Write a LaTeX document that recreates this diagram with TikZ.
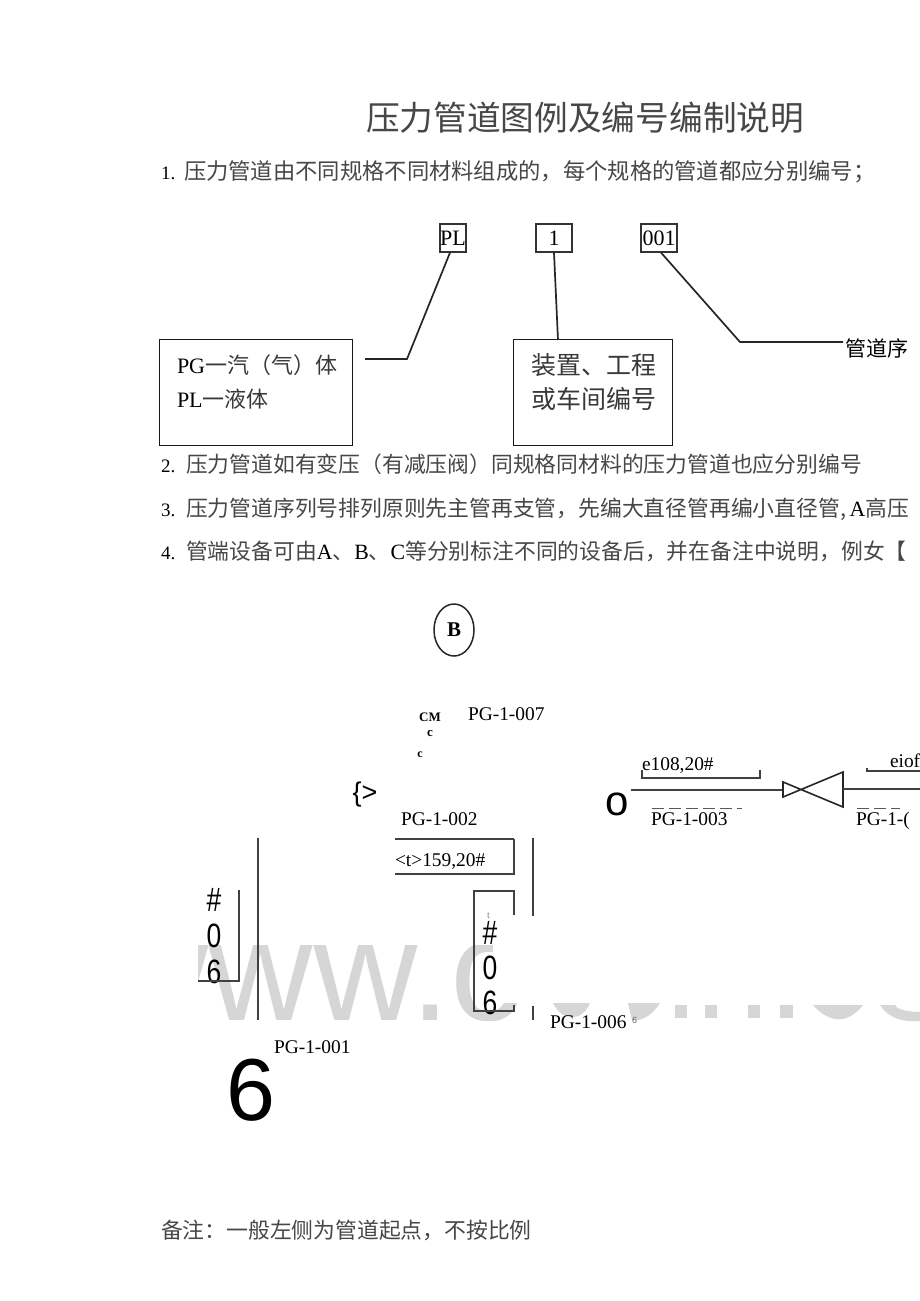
\documentclass[tikz,border=0pt]{standalone}
\usepackage{graphicx}
\usepackage{fontspec}
\setmainfont{Liberation Serif}
\newfontfamily\cjk{Noto Sans CJK SC}
\newfontfamily\hei{Liberation Sans}
\usetikzlibrary{shapes.geometric}
\newcommand{\fs}[1]{\fontsize{#1}{#1}\selectfont}
\newcommand{\tallglyph}[1]{\scalebox{.98}[1.25]{#1}}
\tikzset{
  txt/.style={anchor=base west,inner sep=0pt,outer sep=0pt},
  body/.style={txt,font=\cjk\fs{21.8},text=black!72},
  code/.style={txt,font=\fs{19.4},text=black},
  stack/.style={anchor=center,inner sep=0pt,font=\hei\fs{27},text=black},
  tag/.style={draw=black!80,line width=1.2pt,minimum height=28pt,inner sep=0pt,font=\fs{22},text=black},
  bigbox/.style={draw=black!90,line width=1.3pt,inner sep=0pt,anchor=north west},
  wire/.style={draw=black!85,line width=1.7pt},
  pipe/.style={draw=black!75,line width=1.7pt},
  dashbit/.style={draw=black!65,line width=1pt,dash pattern=on 12pt off 5pt},
  wm/.style={fill=black!16,draw=none}
}
\begin{document}
\begin{tikzpicture}[x=1pt,y=-1pt]
\useasboundingbox[fill=white] (0,0) rectangle (920,1301);
% watermark
\begin{scope}
\clip (198,945) -- (492,945) -- (492,1003) -- (920,1003) -- (920,1020) -- (198,1020) -- cycle;
\node[anchor=base west,inner sep=0pt,text=black!16,font=\hei\fs{145}] (mark) at (104,1020) {www.c};
\end{scope}
\fill[wm] (553,1003) .. controls (562,1022) and (582,1022) .. (590,1003) -- cycle;
\fill[wm] (628,1003) -- (660,1003) .. controls (650,1018) and (640,1021) .. (632,1020) -- cycle;
\fill[wm] (675,1005) rectangle (687,1018);
\fill[wm] (705,1005) rectangle (717,1018);
\fill[wm] (748,1005) rectangle (760,1018);
\fill[wm] (780,1005) rectangle (793,1018);
\fill[wm] (813,1005) .. controls (830,1024) and (848,1024) .. (863,1005) -- cycle;
\fill[wm] (880,1005) .. controls (890,1020) and (905,1022) .. (920,1021) -- (920,1012) .. controls (905,1012) and (895,1008) .. (895,1005) -- cycle;
% header text
\node[txt,font=\cjk\fs{33.7},text=black!72] (title) at (366,130) {压力管道图例及编号编制说明};
\node[txt,font=\fs{19}] (n1) at (161,179) {1.};
\node[body,font=\cjk\fs{22.3}] (l1) at (184,179) {压力管道由不同规格不同材料组成的，每个规格的管道都应分别编号；};
\node[txt,font=\fs{19}] (n2) at (161,472) {2.};
\node[body] (l2) at (186,472) {压力管道如有变压（有减压阀）同规格同材料的压力管道也应分别编号};
\node[txt,font=\fs{19}] (n3) at (161,516) {3.};
\node[body] (l3) at (186,516) {压力管道序列号排列原则先主管再支管，先编大直径管再编小直径管,\,{\rmfamily\color{black}A}高压};
\node[txt,font=\fs{19}] (n4) at (161,559) {4.};
\node[body] (l4) at (186,559) {管端设备可由{\rmfamily\color{black}A}、{\rmfamily\color{black}B}、{\rmfamily\color{black}C}等分别标注不同的设备后，并在备注中说明，例女【};
\node[body] (note) at (161,1238) {备注：一般左侧为管道起点，不按比例};
% numbering scheme
\node[tag,minimum width=26pt] (tagpl) at (453,238) {PL};
\node[tag,minimum width=36pt] (tagone) at (554,238) {1};
\node[tag,minimum width=36pt] (tagser) at (659,238) {001};
\node[bigbox,minimum width=193pt,minimum height=106pt] (boxa) at (159,339) {};
\node[bigbox,minimum width=159pt,minimum height=106pt] (boxb) at (513,339) {};
\node[txt,font=\cjk\fs{22},text=black!78] (a1) at (177,373) {{\rmfamily\color{black}PG}一汽（气）体};
\node[txt,font=\cjk\fs{22},text=black!78] (a2) at (177,407) {{\rmfamily\color{black}PL}一液体};
\node[txt,font=\cjk\fs{25},text=black!78] (b1) at (531,374) {装置、工程};
\node[txt,font=\cjk\fs{25},text=black!78] (b2) at (531,408) {或车间编号};
\node[txt,font=\cjk\fs{21}] (ser) at (845,356) {管道序};
\coordinate (ca1) at (407,359);
\coordinate (ca2) at (365,359);
\coordinate (cs1) at (740,342);
\coordinate (cs2) at (843,342);
\coordinate (tplb) at (450,252);
\coordinate (tseb) at (661,252);
\coordinate (boxbtop) at (558,340);
\draw[wire] (tagpl.south -| tplb) -- (ca1) -- (ca2);
\draw[wire] (tagone.south) -- (boxbtop);
\draw[wire] (tagser.south -| tseb) -- (cs1) -- (cs2);
% equipment marks
\node[draw=black!85,line width=1.5pt,ellipse,minimum width=40pt,minimum height=52pt,inner sep=0pt,font=\bfseries\fs{21}] (eqb) at (454,630) {B};
\node[anchor=center,inner sep=0pt,font=\bfseries\fs{13}] (cm) at (430,717) {CM};
\node[anchor=center,inner sep=0pt,font=\bfseries\fs{13}] (c1) at (430,733) {c};
\node[anchor=center,inner sep=0pt,font=\bfseries\fs{12}] (c2) at (420,755) {c};
\node[anchor=center,inner sep=0pt,font=\hei\fs{27}] (brace) at (365,795) {\{>};
\node[code] (p7) at (468,720) {PG-1-007};
\node[code] (p2) at (401,825) {PG-1-002};
\node[code] (p3) at (651,825) {PG-1-003};
\node[code] (p4) at (856,825) {PG-1-(};
\node[code] (p6) at (550,1028) {PG-1-006};
\node[code] (p1) at (274,1053) {PG-1-001};
\node[txt,font=\hei\fs{9},text=black!60] (frag) at (632,1023) {6};
\node[txt,font=\fs{19.4}] (d159) at (395,866) {<t>159,20\#};
\node[txt,font=\fs{19.4}] (d108) at (642,770) {e108,20\#};
\node[txt,font=\fs{19.4}] (d10f) at (890,767) {eiof};
\node[anchor=center,inner sep=0pt,font=\hei\fs{42}] (ostart) at (617,804) {o};
\node[anchor=center,inner sep=0pt,font=\hei\fs{88}] (six) at (251,1090) {6};
\node[stack] (h1) at (214,900) {\tallglyph{\#}};
\node[stack] (h2) at (214,936) {\tallglyph{0}};
\node[stack] (h3) at (214,972) {\tallglyph{6}};
\node[stack] (k1) at (490,933) {\tallglyph{\#}};
\node[stack] (k2) at (490,968) {\tallglyph{0}};
\node[stack] (k3) at (490,1003) {\tallglyph{6}};
\node[txt,font=\fs{10},text=black!50] (frag2) at (487,918) {t};
% pipes
\coordinate (valvel) at (783,790);
\coordinate (valver) at (843,789);
\coordinate (pipeend) at (920,789);
\draw[pipe] (631,790) -- (valvel);
\draw[draw=black!85,line width=1.6pt] (783,782) -- (783,797) -- (843,772) -- (843,807) -- cycle;
\draw[pipe] (valver) -- (pipeend);
% brackets
\draw[pipe] (642,770) -- (642,778) -- (760,778) -- (760,770);
\draw[pipe,line width=2pt] (867,768) -- (867,771) -- (920,771);
\draw[pipe,line width=2.6pt] (395,839) -- (514,839);
\draw[pipe] (514,839) -- (514,874) -- (395,874);
\draw[pipe,line width=1.5pt] (258,838) -- (258,1020);
\draw[pipe,line width=1.5pt] (533,838) -- (533,916);
\draw[pipe,line width=1.5pt] (533,1006) -- (533,1020);
\draw[pipe,line width=1.5pt] (198,981) -- (239,981) -- (239,890);
\draw[pipe,line width=1.5pt] (514,915) -- (514,891) -- (474,891) -- (474,1011) -- (514,1011) -- (514,1005);
% dashes above codes
\draw[dashbit] (652,808) -- (742,808);
\draw[dashbit] (857,808) -- (900,808);
\end{tikzpicture}
\end{document}
